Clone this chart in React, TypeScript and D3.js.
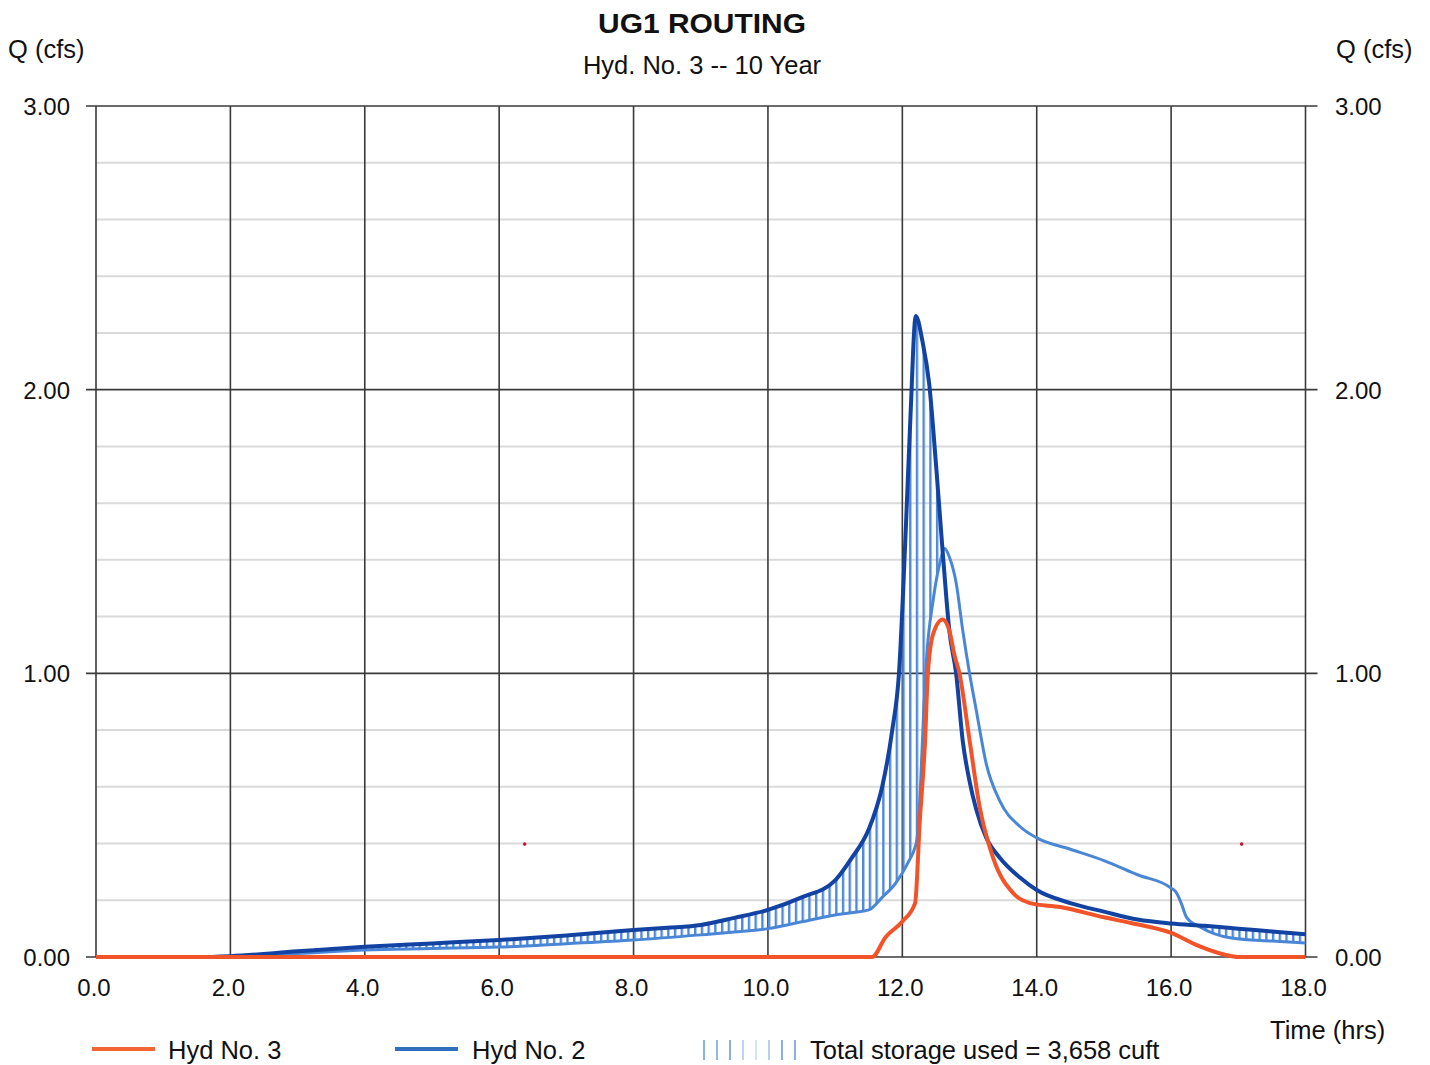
import React from "react";
import * as d3 from "d3";

// Hyd No. 2 — inflow hydrograph (hrs, cfs)
const inflowHours = [
  0, 1.0, 1.5, 2.0, 3.0, 4.0, 5.0, 6.0, 7.0, 8.0, 8.5, 9.0, 9.5, 10.0, 10.5, 11.0,
  11.25, 11.5, 11.7, 11.85, 11.95, 12.05, 12.12, 12.2, 12.3, 12.4, 12.5, 12.6, 12.7,
  12.8, 12.9, 13.0, 13.1, 13.25, 13.45, 13.75, 14.0, 14.5, 15.0, 15.5, 16.0, 16.5,
  17.0, 17.5, 18.0,
];
const inflowCfs = [
  0, 0, 0, 0.003, 0.02, 0.036, 0.048, 0.06, 0.076, 0.095, 0.103, 0.113, 0.138, 0.166,
  0.21, 0.27, 0.35, 0.45, 0.6, 0.8, 1.0, 1.5, 1.9, 2.26, 2.17, 2.02, 1.74, 1.43, 1.15,
  1.0, 0.76, 0.62, 0.52, 0.42, 0.35, 0.28, 0.236, 0.19, 0.16, 0.132, 0.118, 0.11, 0.1,
  0.09, 0.08,
];

// Lower edge of the storage band (hrs, cfs)
const storageEdgeHours = [
  0, 1.5, 2.0, 3.0, 4.0, 5.0, 6.0, 7.0, 8.0, 9.0, 9.5, 10.0, 10.5, 11.0, 11.3, 11.5,
  11.7, 11.9, 12.1, 12.18, 12.22, 12.27, 12.32, 12.36, 12.46, 12.56, 12.63, 12.7, 12.8,
  12.9, 13.0, 13.1, 13.25, 13.45, 13.75, 14.0, 14.5, 15.0, 15.5, 16.0, 16.08, 16.15,
  16.23, 16.43, 16.9, 17.5, 18.0,
];
const storageEdgeCfs = [
  0, 0, 0.002, 0.012, 0.025, 0.03, 0.035, 0.047, 0.06, 0.078, 0.088, 0.1, 0.124, 0.148,
  0.158, 0.166, 0.21, 0.26, 0.34, 0.38, 0.42, 0.6, 0.88, 1.05, 1.26, 1.39, 1.44, 1.41,
  1.32, 1.15, 1.0, 0.87, 0.68, 0.55, 0.46, 0.42, 0.38, 0.34, 0.29, 0.243, 0.226, 0.19,
  0.14, 0.106, 0.067, 0.056, 0.049,
];

// Hyd No. 3 — routed outflow hydrograph (hrs, cfs)
const outflowHours = [
  0, 11.55, 11.75, 12.0, 12.19, 12.26, 12.34, 12.38, 12.46, 12.6, 12.7, 12.78, 12.85,
  13.0, 13.15, 13.35, 13.65, 13.9, 14.35, 15.0, 15.4, 16.0, 16.4, 16.8, 17.0, 18.0,
];
const outflowCfs = [
  0, 0, 0.07, 0.125, 0.19, 0.48, 0.77, 1.0, 1.14, 1.19, 1.15, 1.06, 1.0, 0.765, 0.53,
  0.35, 0.225, 0.19, 0.176, 0.14, 0.12, 0.085, 0.04, 0.008, 0, 0,
];

// Stray plotted specks (hrs, cfs)
const speckHours = [6.38, 17.05];
const speckCfs = [0.398, 0.398];

const xTickValues = [0, 2, 4, 6, 8, 10, 12, 14, 16, 18];
const yTickValues = [0, 1, 2, 3];
const yMinorValues = [0.2, 0.4, 0.6, 0.8, 1.2, 1.4, 1.6, 1.8, 2.2, 2.4, 2.6, 2.8];

const chartTitle = "UG1 ROUTING";
const chartSubtitle = "Hyd. No. 3 -- 10 Year";
const yAxisTitle = "Q (cfs)";
const xAxisTitle = "Time (hrs)";
const legendOutflow = "Hyd No. 3";
const legendInflow = "Hyd No. 2";
const legendStorage = "Total storage used = 3,658 cuft";

const FONT = "'Liberation Sans', Arial, Helvetica, sans-serif";
const GRID_DARK = "#3a3a3a";
const GRID_LIGHT = "#dadada";
const ORANGE = "#f2542a";
const DARK_BLUE = "#1343a2";
const LIGHT_BLUE = "#4a86d6";
const HATCH_BLUE = "#4f8ad8";

type Pt = [number, number];
const zip = (h: number[], q: number[]): Pt[] => h.map((t, i) => [t, q[i]]);

export default function App() {
  const W = 1430;
  const H = 1065;
  const x = d3.scaleLinear().domain([0, 18]).range([96, 1305.5]);
  const y = d3.scaleLinear().domain([0, 3]).range([957, 106]);

  const inflow = zip(inflowHours, inflowCfs);
  const edge = zip(storageEdgeHours, storageEdgeCfs);
  const outflow = zip(outflowHours, outflowCfs);
  const specks = zip(speckHours, speckCfs);

  const line = d3
    .line<Pt>()
    .x((d) => x(d[0]))
    .y((d) => y(d[1]))
    .curve(d3.curveMonotoneX);

  // region above the lower edge, used to clip the hatch
  const aboveEdge = d3
    .area<Pt>()
    .x((d) => x(d[0]))
    .y0((d) => y(d[1]))
    .y1(y(3))
    .curve(d3.curveMonotoneX);

  // region under the inflow curve, filled with vertical hatch
  const underInflow = d3
    .area<Pt>()
    .x((d) => x(d[0]))
    .y0(y(0))
    .y1((d) => y(d[1]))
    .curve(d3.curveMonotoneX);

  const hatchStep = x(0.1) - x(0);
  const left = x(0);
  const right = x(18);
  const fmtX = d3.format(".1f");
  const fmtY = d3.format(".2f");

  const legendHatchXs = [704, 717, 730, 743, 756, 769, 782, 795];
  const legendHatchOpacity = [1, 0.9, 1, 0.55, 0.35, 0.6, 1, 1];

  return (
    <div style={{ position: "absolute", left: 0, top: 0 }}>
      <svg width={W} height={H} style={{ display: "block", background: "#fff" }} fontFamily={FONT}>
        <defs>
          <pattern
            id="storageHatch"
            patternUnits="userSpaceOnUse"
            x={left}
            y={0}
            width={hatchStep}
            height={20}
          >
            <rect x={0} y={0} width={2.4} height={20} fill={HATCH_BLUE} />
          </pattern>
          <clipPath id="aboveEdgeClip">
            <path d={aboveEdge(edge) || ""} />
          </clipPath>
        </defs>

        {/* minor horizontal grid */}
        {yMinorValues.map((v) => (
          <line key={"m" + v} x1={left} x2={right} y1={y(v)} y2={y(v)} stroke={GRID_LIGHT} strokeWidth={2} />
        ))}

        {/* major horizontal grid with outside ticks */}
        {yTickValues.map((v) => (
          <line key={"h" + v} x1={left - 10} x2={right + 12} y1={y(v)} y2={y(v)} stroke={GRID_DARK} strokeWidth={1.6} />
        ))}

        {/* vertical grid */}
        {xTickValues.map((t) => (
          <line key={"v" + t} x1={x(t)} x2={x(t)} y1={y(3)} y2={y(0)} stroke={GRID_DARK} strokeWidth={1.6} />
        ))}

        {/* storage hatch between inflow and lower edge */}
        <path d={underInflow(inflow) || ""} fill="url(#storageHatch)" clipPath="url(#aboveEdgeClip)" />

        <path d={line(edge) || ""} fill="none" stroke={LIGHT_BLUE} strokeWidth={3} strokeLinejoin="round" />
        <path d={line(inflow) || ""} fill="none" stroke={DARK_BLUE} strokeWidth={4} strokeLinejoin="miter" />
        <path d={line(outflow) || ""} fill="none" stroke={ORANGE} strokeWidth={4} strokeLinejoin="round" />

        {specks.map((d, i) => (
          <circle key={"s" + i} cx={x(d[0])} cy={y(d[1])} r={1.8} fill="#c8143c" />
        ))}

        {/* y tick labels, both sides */}
        {yTickValues.map((v) => (
          <g key={"yl" + v} fontSize={24} fill="#111">
            <text x={70} y={y(v) + 9} textAnchor="end">{fmtY(v)}</text>
            <text x={1335} y={y(v) + 9} textAnchor="start">{fmtY(v)}</text>
          </g>
        ))}

        {/* x tick labels */}
        {xTickValues.map((t) => (
          <text key={"xl" + t} x={x(t) - 2} y={996} textAnchor="middle" fontSize={24} fill="#111">
            {fmtX(t)}
          </text>
        ))}

        {/* titles */}
        <text x={702} y={33} textAnchor="middle" fontSize={28} fontWeight="bold" fill="#111" textLength={208} lengthAdjust="spacingAndGlyphs">
          {chartTitle}
        </text>
        <text x={702} y={74} textAnchor="middle" fontSize={25.5} fill="#111">
          {chartSubtitle}
        </text>
        <text x={8} y={58} fontSize={25.5} fill="#111">{yAxisTitle}</text>
        <text x={1336} y={58} fontSize={25.5} fill="#111">{yAxisTitle}</text>
        <text x={1270} y={1039} fontSize={25.5} fill="#111">{xAxisTitle}</text>

        {/* legend */}
        <line x1={92} x2={155} y1={1049} y2={1049} stroke="#f26535" strokeWidth={4} />
        <text x={168} y={1059} fontSize={25.5} fill="#111">{legendOutflow}</text>
        <line x1={395} x2={458} y1={1049} y2={1049} stroke="#2f6fbd" strokeWidth={4} />
        <text x={472} y={1059} fontSize={25.5} fill="#111">{legendInflow}</text>
        {legendHatchXs.map((lx, i) => (
          <line key={"lh" + i} x1={lx} x2={lx} y1={1040} y2={1060} stroke="#6a9ee0" strokeWidth={1.6} opacity={legendHatchOpacity[i]} />
        ))}
        <text x={810} y={1059} fontSize={25.5} fill="#111">{legendStorage}</text>
      </svg>
    </div>
  );
}
